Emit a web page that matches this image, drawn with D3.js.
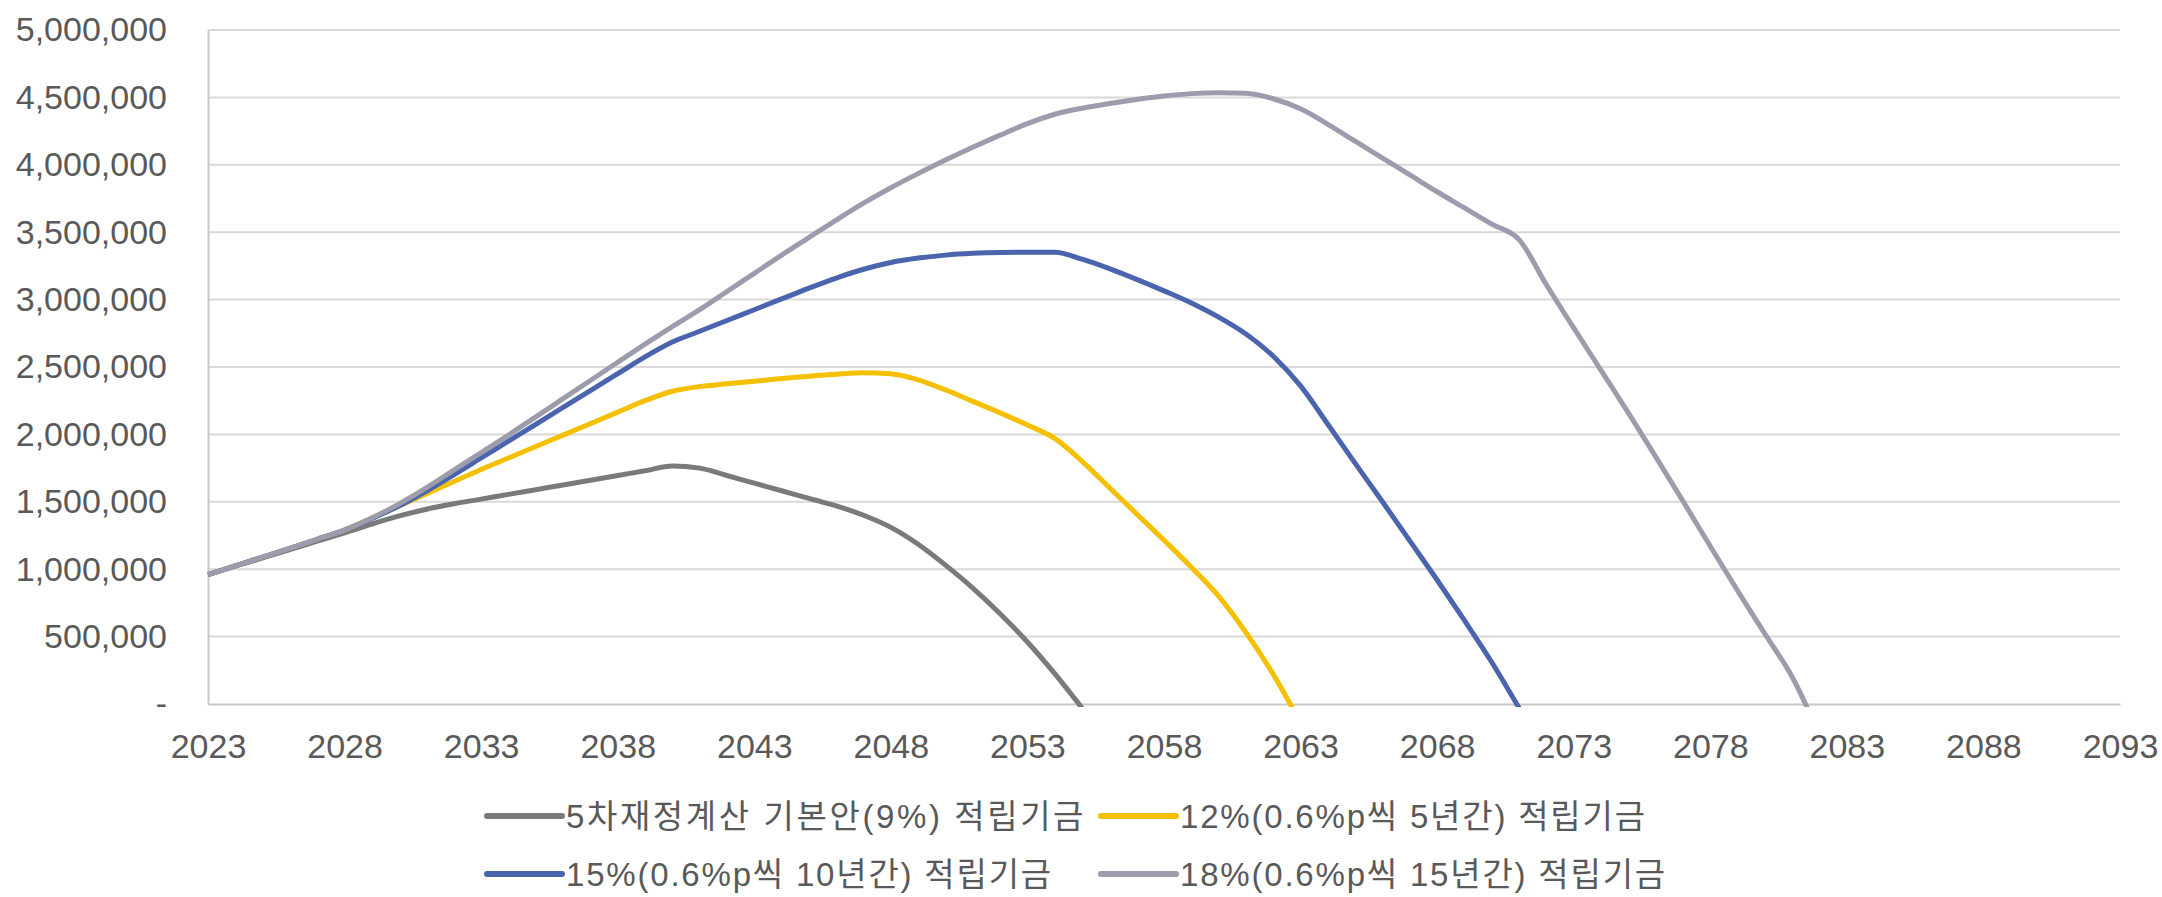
<!DOCTYPE html>
<html>
<head>
<meta charset="utf-8">
<script src="https://cdn.jsdelivr.net/npm/d3@7"></script>
<style>
  html, body { margin: 0; padding: 0; background: #ffffff; }
  svg { display: block; font-family: "Liberation Sans", "Noto Sans CJK KR", Arial, sans-serif; }
</style>
</head>
<body>
<svg id="chart" width="2162" height="897"></svg>
<script>
// Projection years (category axis) and labelled ticks
const startYear = 2023;
const categories = d3.range(2023, 2094);
const xTickLabels = [2023, 2028, 2033, 2038, 2043, 2048, 2053, 2058, 2063, 2068, 2073, 2078, 2083, 2088, 2093];
const yTickValues = [0, 500000, 1000000, 1500000, 2000000, 2500000, 3000000, 3500000, 4000000, 4500000, 5000000];

// Series names and colours
const seriesNames = [
  "5차재정계산 기본안(9%) 적립기금",
  "12%(0.6%p씩 5년간) 적립기금",
  "15%(0.6%p씩 10년간) 적립기금",
  "18%(0.6%p씩 15년간) 적립기금"
];
const seriesColors = ["#7a7a7a", "#f5c000", "#4a64ae", "#9c9cad"];

// Fund balance by year, starting 2023 (last value falls below zero at depletion)
const fundBase9 = [
  960000, 1022000, 1084000, 1146000, 1208000, 1270000, 1335000, 1395000, 1445000, 1485000,
  1520000, 1555000, 1590000, 1625000, 1660000, 1695000, 1730000, 1765000, 1750000, 1695000,
  1638000, 1582000, 1525000, 1470000, 1400000, 1310000, 1185000, 1030000, 860000, 670000,
  460000, 225000, -30000
];
const fund12 = [
  960000, 1025000, 1090000, 1155000, 1222000, 1290000, 1380000, 1470000, 1560000, 1650000,
  1740000, 1825000, 1910000, 1995000, 2080000, 2165000, 2250000, 2320000, 2355000, 2375000,
  2395000, 2415000, 2432000, 2447000, 2458000, 2450000, 2405000, 2330000, 2245000, 2160000,
  2070000, 1970000, 1800000, 1605000, 1410000, 1215000, 1015000, 800000, 530000, 220000,
  -140000
];
const fund15 = [
  960000, 1025000, 1090000, 1155000, 1222000, 1290000, 1375000, 1470000, 1580000, 1700000,
  1825000, 1950000, 2075000, 2200000, 2325000, 2450000, 2575000, 2685000, 2765000, 2845000,
  2925000, 3005000, 3085000, 3160000, 3225000, 3275000, 3308000, 3330000, 3343000, 3350000,
  3352000, 3352000, 3300000, 3230000, 3150000, 3065000, 2975000, 2870000, 2745000, 2580000,
  2360000, 2075000, 1785000, 1500000, 1210000, 920000, 620000, 310000, -30000
];
const fund18 = [
  960000, 1025000, 1090000, 1155000, 1222000, 1290000, 1380000, 1485000, 1605000, 1735000,
  1865000, 1995000, 2130000, 2265000, 2400000, 2535000, 2670000, 2800000, 2925000, 3060000,
  3195000, 3330000, 3460000, 3590000, 3715000, 3830000, 3935000, 4035000, 4130000, 4220000,
  4305000, 4375000, 4420000, 4455000, 4485000, 4510000, 4528000, 4535000, 4530000, 4490000,
  4415000, 4300000, 4175000, 4050000, 3925000, 3800000, 3680000, 3560000, 3445000, 3110000,
  2790000, 2475000, 2160000, 1835000, 1505000, 1170000, 840000, 520000, 200000, -230000
];
const seriesValues = [fundBase9, fund12, fund15, fund18];

// Layout
const width = 2162, height = 897;
const margin = { top: 30, right: 42, bottom: 193, left: 208 };
const plotW = width - margin.left - margin.right;
const plotH = height - margin.top - margin.bottom;

const svg = d3.select("#chart");

const x = d3.scalePoint().domain(categories).range([margin.left, margin.left + plotW]);
const y = d3.scaleLinear().domain([0, 5000000]).range([margin.top + plotH, margin.top]);

const labelColor = "#595959";
const fontSize = 34;

// Horizontal gridlines
svg.append("g")
  .selectAll("line")
  .data(yTickValues.filter(v => v > 0))
  .join("line")
  .attr("x1", margin.left)
  .attr("x2", margin.left + plotW)
  .attr("y1", d => y(d))
  .attr("y2", d => y(d))
  .attr("stroke", "#d9d9d9")
  .attr("stroke-width", 2);

// Y axis
const yAxis = d3.axisLeft(y)
  .tickValues(yTickValues)
  .tickSize(0)
  .tickPadding(41)
  .tickFormat(d => d === 0 ? "-" : d3.format(",")(d));
const gy = svg.append("g")
  .attr("transform", `translate(${margin.left},0)`)
  .call(yAxis);
gy.select(".domain").attr("stroke", "#c8c8c8").attr("stroke-width", 2);
gy.selectAll("text")
  .attr("fill", labelColor)
  .style("font-size", fontSize + "px")
  .style("font-family", "'Liberation Sans', Arial, sans-serif");

// X axis
const xAxis = d3.axisBottom(x)
  .tickValues(xTickLabels)
  .tickSize(0)
  .tickPadding(30)
  .tickFormat(d => String(d));
const gx = svg.append("g")
  .attr("transform", `translate(0,${margin.top + plotH})`)
  .call(xAxis);
gx.select(".domain").attr("stroke", "#c8c8c8").attr("stroke-width", 2);
gx.selectAll("text")
  .attr("fill", labelColor)
  .style("font-size", fontSize + "px")
  .style("font-family", "'Liberation Sans', Arial, sans-serif");

// Clip lines to the plot area so depletion ends at the baseline
svg.append("defs").append("clipPath")
  .attr("id", "plot-clip")
  .append("rect")
  .attr("x", margin.left - 10)
  .attr("y", 0)
  .attr("width", plotW + 20)
  .attr("height", margin.top + plotH + 3);

const line = d3.line()
  .x((d, i) => x(startYear + i))
  .y(d => y(d))
  .curve(d3.curveMonotoneX);

svg.append("g")
  .attr("clip-path", "url(#plot-clip)")
  .selectAll("path")
  .data(seriesValues)
  .join("path")
  .attr("d", d => line(d))
  .attr("fill", "none")
  .attr("stroke", (d, i) => seriesColors[i])
  .attr("stroke-width", 5)
  .attr("stroke-linejoin", "round");

// Legend: two columns, two rows
const legendCols = [487, 1101];
const legendRows = [816, 874];
const legendLineLen = 75;
const legend = svg.append("g")
  .selectAll("g")
  .data(seriesNames)
  .join("g")
  .attr("transform", (d, i) => `translate(${legendCols[i % 2]},${legendRows[Math.floor(i / 2)]})`);
legend.append("line")
  .attr("x1", 0).attr("x2", legendLineLen)
  .attr("y1", 0).attr("y2", 0)
  .attr("stroke", (d, i) => seriesColors[i])
  .attr("stroke-width", 6)
  .attr("stroke-linecap", "round");
legend.append("text")
  .attr("x", legendLineLen + 4)
  .attr("y", 0)
  .attr("dy", "0.35em")
  .attr("fill", labelColor)
  .style("font-size", "33px")
  .style("letter-spacing", (d, i) => i === 0 ? "2.6px" : "1.8px")
  .text(d => d);
</script>
</body>
</html>
